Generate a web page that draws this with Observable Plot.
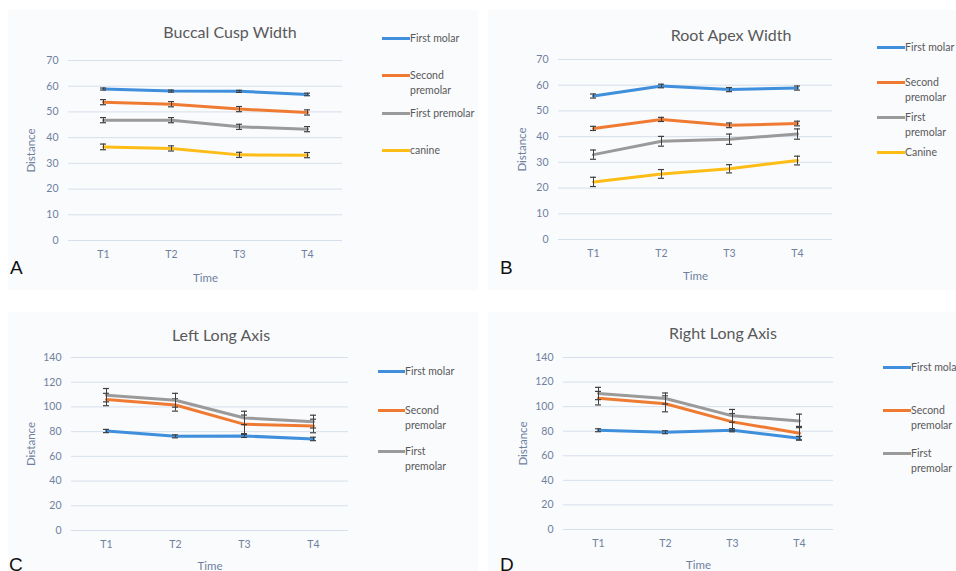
<!DOCTYPE html>
<html>
<head>
<meta charset="utf-8">
<script src="https://cdn.jsdelivr.net/npm/d3@7"></script>
<script src="https://cdn.jsdelivr.net/npm/@observablehq/plot@0.6"></script>
<style>
  html, body { margin: 0; padding: 0; background: #ffffff; }
  #page { position: relative; width: 956px; height: 571px; overflow: hidden; background: #ffffff; font-family: Lato, "Open Sans", sans-serif; }
  .bg { position: absolute; background: #fafbfd; }
  .plotbox { position: absolute; }
  .title { position: absolute; transform: translate(-50%, -50%); font-size: 16px; color: #595959; white-space: nowrap; line-height: 20px; }
  .letter { position: absolute; font-family: "Liberation Sans", Arial, sans-serif; font-size: 19px; line-height: 19px; color: #111; }
  .leg { position: absolute; font-size: 10.5px; color: #595959; line-height: 15px; white-space: nowrap; }
  .leg .sw { position: absolute; height: 3px; top: 6px; }
</style>
</head>
<body>
<div id="page"></div>
<script>
// ---------- data ----------
const times = ["T1", "T2", "T3", "T4"];

// A: Buccal Cusp Width
const buccalSeries = ["First molar", "Second premolar", "First premolar", "canine"];
const buccalFirstMolar      = [58.9, 58.1, 58.0, 56.8];
const buccalFirstMolarErr   = [0.4, 0.4, 0.4, 0.5];
const buccalSecondPremolar  = [53.8, 53.0, 51.1, 49.8];
const buccalSecondPremolarErr = [1.0, 1.0, 1.0, 1.0];
const buccalFirstPremolar   = [46.8, 46.8, 44.2, 43.3];
const buccalFirstPremolarErr = [1.0, 1.0, 1.0, 1.0];
const buccalCanine          = [36.4, 35.8, 33.3, 33.2];
const buccalCanineErr       = [1.1, 1.0, 1.0, 1.0];

// B: Root Apex Width
const apexSeries = ["First molar", "Second premolar", "First premolar", "Canine"];
const apexFirstMolar        = [55.8, 59.7, 58.3, 58.9];
const apexFirstMolarErr     = [0.8, 0.7, 0.8, 0.8];
const apexSecondPremolar    = [43.2, 46.7, 44.4, 45.1];
const apexSecondPremolarErr = [0.8, 0.8, 0.9, 0.9];
const apexFirstPremolar     = [33.0, 38.2, 39.0, 41.0];
const apexFirstPremolarErr  = [1.8, 1.9, 2.0, 2.0];
const apexCanine            = [22.4, 25.5, 27.5, 30.7];
const apexCanineErr         = [1.8, 1.7, 1.6, 1.7];

// C: Left Long Axis
const leftSeries = ["First molar", "Second premolar", "First premolar"];
const leftFirstMolar        = [80.5, 76.2, 76.5, 74.1];
const leftFirstMolarErr     = [1.3, 1.2, 1.2, 1.4];
const leftSecondPremolar    = [106.0, 101.6, 85.9, 84.6];
const leftSecondPremolarErr = [5.0, 5.0, 7.5, 5.5];
const leftFirstPremolar     = [109.5, 105.4, 91.1, 88.1];
const leftFirstPremolarErr  = [5.4, 5.6, 5.4, 5.2];

// D: Right Long Axis
const rightSeries = ["First molar", "Second premolar", "First premolar"];
const rightFirstMolar        = [80.8, 79.2, 80.8, 74.3];
const rightFirstMolarErr     = [1.2, 1.2, 1.3, 1.5];
const rightSecondPremolar    = [106.9, 102.3, 87.6, 78.4];
const rightSecondPremolarErr = [5.5, 6.5, 6.8, 5.5];
const rightFirstPremolar     = [110.7, 106.6, 92.5, 88.4];
const rightFirstPremolarErr  = [5.0, 4.5, 5.2, 5.5];

const ticks70 = [0, 10, 20, 30, 40, 50, 60, 70];
const ticks140 = [0, 20, 40, 60, 80, 100, 120, 140];

const colorsFour = ["#3f8fdc", "#ef7b33", "#9a9a9a", "#fdbd16"];
const colorsThree = ["#3f8fdc", "#ef7b33", "#9a9a9a"];

// ---------- helpers ----------
function rows(names, values, errs) {
  const out = [];
  names.forEach((name, i) => {
    times.forEach((t, j) => out.push({series: name, order: i, time: t, value: values[i][j], err: errs[i][j]}));
  });
  return out;
}

const page = document.getElementById("page");

function addDiv(cls, style, html) {
  const d = document.createElement("div");
  d.className = cls;
  Object.assign(d.style, style);
  d.innerHTML = html;
  page.appendChild(d);
  return d;
}

const tickColor = "#6f819e";

function panel(cfg) {
  const data = rows(cfg.names, cfg.values, cfg.errs);
  const marks = [
    Plot.gridY(cfg.ticks, {stroke: "#d6dfeb", strokeOpacity: 1, strokeWidth: 1}),
    Plot.axisY(cfg.ticks, {tickSize: 0, tickPadding: 10, fontSize: 10.5, color: tickColor, label: null}),
    Plot.axisX({tickSize: 0, tickPadding: 10, fontSize: 10.5, color: tickColor, label: null}),
    Plot.axisY([], {tickSize: 0, fontSize: 11.5, color: tickColor,
      label: "Distance", labelAnchor: "center", labelOffset: cfg.yLabelOffset, labelArrow: "none"}),
    Plot.axisX([], {tickSize: 0, fontSize: 11.5, color: tickColor,
      label: "Time", labelAnchor: "center", labelOffset: cfg.xLabelOffset, labelArrow: "none"})
  ];
  cfg.names.forEach((name) => {
    const sub = data.filter(d => d.series === name);
    marks.push(Plot.line(sub, {x: "time", y: "value", stroke: "series", strokeWidth: 3}));
    marks.push(Plot.ruleX(sub, {x: "time", y1: d => d.value - d.err, y2: d => d.value + d.err, stroke: "#404040", strokeWidth: 1}));
    marks.push(Plot.ruleY(sub, {x1: "time", x2: "time", y: d => d.value - d.err, stroke: "#404040", strokeWidth: 1.2, insetLeft: -3, insetRight: -3}));
    marks.push(Plot.ruleY(sub, {x1: "time", x2: "time", y: d => d.value + d.err, stroke: "#404040", strokeWidth: 1.2, insetLeft: -3, insetRight: -3}));
  });
  const svg = Plot.plot({
    width: cfg.width, height: cfg.height,
    marginLeft: cfg.ml, marginRight: cfg.mr, marginTop: cfg.mt, marginBottom: cfg.mb,
    style: {fontFamily: "Lato, 'Open Sans', sans-serif", background: "transparent", color: tickColor, overflow: "visible"},
    x: {type: "point", domain: times, padding: 0.5},
    y: {domain: cfg.domain},
    color: {domain: cfg.names, range: cfg.colors},
    marks
  });
  const box = addDiv("plotbox", {left: cfg.left + "px", top: cfg.top + "px"}, "");
  box.appendChild(svg);

  addDiv("title", {left: cfg.titleX + "px", top: cfg.titleY + "px"}, cfg.title);
  addDiv("letter", {left: cfg.letterX + "px", top: cfg.letterY + "px"}, cfg.letter);

  cfg.legend.forEach((entry, i) => {
    const d = addDiv("leg", {left: cfg.legText + "px", top: (entry.y - 7.5) + "px"}, entry.lines.join("<br>"));
    const sw = document.createElement("span");
    sw.className = "sw";
    sw.style.left = (cfg.legLine - cfg.legText) + "px";
    sw.style.width = (cfg.legText - cfg.legLine) + "px";
    sw.style.background = cfg.colors[i];
    d.appendChild(sw);
  });
}

// panel backgrounds
addDiv("bg", {left: "8px", top: "10px", width: "470px", height: "280px"}, "");
addDiv("bg", {left: "488px", top: "10px", width: "468px", height: "280px"}, "");
addDiv("bg", {left: "8px", top: "312px", width: "470px", height: "259px"}, "");
addDiv("bg", {left: "488px", top: "312px", width: "468px", height: "259px"}, "");

panel({
  title: "Buccal Cusp Width", titleX: 230, titleY: 32, letter: "A", letterX: 10, letterY: 258,
  left: 0, top: 45, width: 360, height: 245, ml: 68, mr: 18, mt: 15, mb: 50,
  domain: [0, 70], ticks: ticks70, yLabelOffset: 42, xLabelOffset: 41,
  names: buccalSeries, colors: colorsFour,
  values: [buccalFirstMolar, buccalSecondPremolar, buccalFirstPremolar, buccalCanine],
  errs: [buccalFirstMolarErr, buccalSecondPremolarErr, buccalFirstPremolarErr, buccalCanineErr],
  legLine: 382, legText: 410,
  legend: [{y: 38, lines: ["First molar"]}, {y: 75, lines: ["Second", "premolar"]},
           {y: 113, lines: ["First premolar"]}, {y: 150, lines: ["canine"]}]
});

panel({
  title: "Root Apex Width", titleX: 731, titleY: 35, letter: "B", letterX: 500, letterY: 258,
  left: 490, top: 45, width: 352, height: 245, ml: 68, mr: 10, mt: 14, mb: 51,
  domain: [0, 70], ticks: ticks70, yLabelOffset: 41, xLabelOffset: 40,
  names: apexSeries, colors: colorsFour,
  values: [apexFirstMolar, apexSecondPremolar, apexFirstPremolar, apexCanine],
  errs: [apexFirstMolarErr, apexSecondPremolarErr, apexFirstPremolarErr, apexCanineErr],
  legLine: 877, legText: 905,
  legend: [{y: 47, lines: ["First molar"]}, {y: 82, lines: ["Second", "premolar"]},
           {y: 117, lines: ["First", "premolar"]}, {y: 152, lines: ["Canine"]}]
});

panel({
  title: "Left Long Axis", titleX: 221, titleY: 335, letter: "C", letterX: 9, letterY: 555,
  left: 0, top: 340, width: 358, height: 231, ml: 71, mr: 10, mt: 17, mb: 41,
  domain: [0, 140], ticks: ticks140, yLabelOffset: 45, xLabelOffset: 39,
  names: leftSeries, colors: colorsThree,
  values: [leftFirstMolar, leftSecondPremolar, leftFirstPremolar],
  errs: [leftFirstMolarErr, leftSecondPremolarErr, leftFirstPremolarErr],
  legLine: 378, legText: 405,
  legend: [{y: 371, lines: ["First molar"]}, {y: 410, lines: ["Second", "premolar"]},
           {y: 451, lines: ["First", "premolar"]}]
});

panel({
  title: "Right Long Axis", titleX: 723, titleY: 333, letter: "D", letterX: 500, letterY: 555,
  left: 490, top: 340, width: 352, height: 231, ml: 73, mr: 9, mt: 17, mb: 42,
  domain: [0, 140], ticks: ticks140, yLabelOffset: 45, xLabelOffset: 39,
  names: rightSeries, colors: colorsThree,
  values: [rightFirstMolar, rightSecondPremolar, rightFirstPremolar],
  errs: [rightFirstMolarErr, rightSecondPremolarErr, rightFirstPremolarErr],
  legLine: 883, legText: 911,
  legend: [{y: 367, lines: ["First molar"]}, {y: 410, lines: ["Second", "premolar"]},
           {y: 453, lines: ["First", "premolar"]}]
});
</script>
</body>
</html>
